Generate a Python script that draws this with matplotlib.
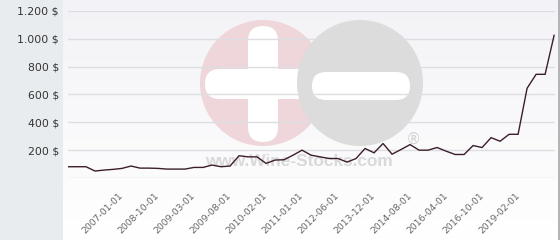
import matplotlib
matplotlib.use("Agg")
import matplotlib.pyplot as plt
import numpy as np
from matplotlib.patches import Circle, FancyBboxPatch, Rectangle
from matplotlib.transforms import IdentityTransform
from matplotlib.colors import LinearSegmentedColormap

# ---- data ----
prices = [81, 81, 81, 50, 57, 62, 69, 86, 71, 71, 69, 64, 64, 64, 76, 76, 93, 81, 86,
          160, 152, 152, 105, 129, 131, 164, 200, 164, 152, 140, 140, 114, 140, 212,
          181, 248, 171, 205, 240, 200, 200, 219, 193, 169, 169, 233, 219, 290, 264,
          314, 314, 645, 745, 745, 1025]
tick_labels = ["2007-01-01", "2008-10-01", "2009-03-01", "2009-08-01", "2010-02-01",
               "2011-01-01", "2012-06-01", "2013-12-01", "2014-08-01", "2016-04-01",
               "2016-10-01", "2019-02-01"]
y_ticks = [200, 400, 600, 800, 1000, 1200]
y_tick_labels = ["200 $", "400 $", "600 $", "800 $", "1.000 $", "1.200 $"]

W, H = 560, 240
DPI = 100
fig = plt.figure(figsize=(W / DPI, H / DPI), dpi=DPI)
fig.patch.set_facecolor("white")

def px(x, y):
    return x, H - y

# left grey panel
fig.add_artist(Rectangle((0, 0), 63 / W, 1, transform=fig.transFigure,
                         facecolor="#e8ecef", edgecolor="none", zorder=0))
# plot background gradient
grad = np.linspace(0, 1, 100).reshape(-1, 1)
bg_ax = fig.add_axes([63 / W, 0, (558 - 63) / W, 1], zorder=-1)
cmap = LinearSegmentedColormap.from_list("bg", ["#f3f3f7", "#ffffff"])
bg_ax.imshow(grad, aspect="auto", cmap=cmap, extent=[0, 1, 0, 1])
bg_ax.set_axis_off()
# right border
fig.add_artist(Rectangle((558 / W, 0), 2 / W, 1, transform=fig.transFigure,
                         facecolor="#b4b4b4", edgecolor="none", zorder=0))

ax = fig.add_axes([68 / W, 1 - 178 / H, (555 - 68) / W, (178 - 11) / H])
ax.patch.set_alpha(0)

x = np.arange(len(prices))
ax.set_xlim(0, len(prices) - 1 + 0.1)
ax.set_ylim(0, 1200)

# watermark
ident = IdentityTransform()
def add(p):
    p.set_transform(ident)
    p.set_clip_on(False)
    ax.add_patch(p)

add(Circle(px(263, 83), 63, facecolor="#eed6da", edgecolor="none", zorder=0.2))
add(FancyBboxPatch(px(205, 99), 116, 30, boxstyle="round,pad=0,rounding_size=15",
                   facecolor="white", edgecolor="none", zorder=0.3))
add(FancyBboxPatch(px(248, 142), 30, 116, boxstyle="round,pad=0,rounding_size=15",
                   facecolor="white", edgecolor="none", zorder=0.3))
add(Circle(px(360, 83), 63, facecolor="#dcdcdc", edgecolor="none", zorder=0.4))
add(FancyBboxPatch(px(312, 100), 98, 28, boxstyle="round,pad=0,rounding_size=14",
                   facecolor="white", edgecolor="none", zorder=0.5))
ax.text(299, H - 161, "www.Wine-Stocks.com", transform=ident, ha="center", va="center",
        fontsize=12.4, fontweight="bold", family="Liberation Sans", color="#d9d9d9",
        zorder=0.6, clip_on=False)
ax.text(413, H - 139, "®", transform=ident, ha="center", va="center",
        fontsize=11, family="DejaVu Sans", color="#d2d2d2", zorder=0.6, clip_on=False)

# grid
for yt in [0] + y_ticks:
    ax.axhline(yt, color="#dedee2", lw=1, zorder=1)

ax.plot(x, prices, color="#3b1e2a", lw=1.0, zorder=3, solid_joinstyle="miter")

for s in ax.spines.values():
    s.set_visible(False)

ax.set_yticks(y_ticks)
ax.set_yticklabels(y_tick_labels, fontsize=7.8, color="#333333")
ax.tick_params(axis="y", length=0, pad=6.5)

tick_pos = [6 + 4 * i for i in range(len(tick_labels))]
ax.set_xticks(tick_pos)
ax.set_xticklabels(tick_labels, rotation=45, ha="right", va="center",
                   rotation_mode="anchor", fontsize=6.7, color="#666666")
ax.tick_params(axis="x", length=0, pad=12)

fig.savefig("out.png", dpi=DPI)
